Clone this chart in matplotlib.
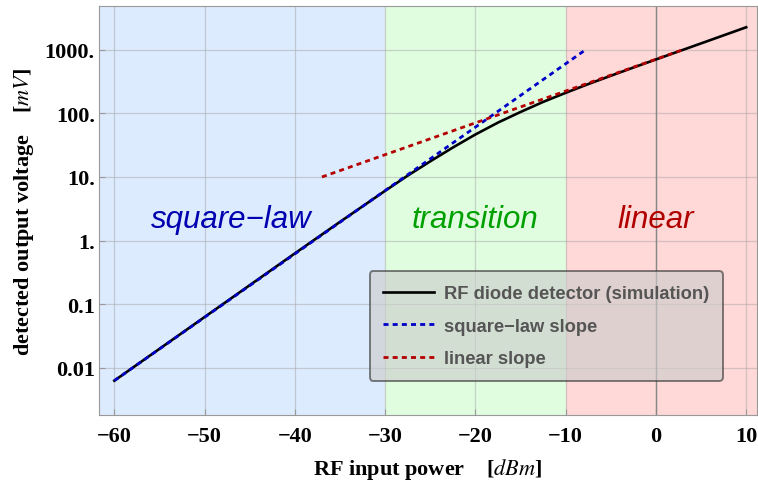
import numpy as np
import matplotlib.pyplot as plt
from matplotlib.ticker import FixedLocator, NullLocator

plt.rcParams['mathtext.fontset'] = 'stix'

# detector curve
p_dbm = [-60, -50, -40, -35, -30, -27.5, -25, -22.5, -20, -17.5, -15, -12.5,
         -10, -7.5, -5, -2.5, 0, 5, 10]
v_mv = [0.0063, 0.063, 0.63, 1.97, 6.06, 10.5, 17.6, 29.0, 46.5, 71.5, 105, 151,
        210, 288, 389, 524, 702, 1255, 2250]

# slope lines (end points)
sq_p = [-60, -8]
sq_v = [0.0063, 950]
lin_p = [-37, 3]
lin_v = [10, 1000]

# regions
region_edges = [-61.7, -30, -10, 11.2]
region_names = ['square\u2212law', 'transition', 'linear']
region_text_x = [-47, -20, 0]
region_fill = ['#dcebfd', '#e0fde0', '#ffd8d8']
region_text_col = ['#0000b0', '#00a000', '#b00000']

xticks = [-60, -50, -40, -30, -20, -10, 0, 10]
xtick_labels = ['\u221260', '\u221250', '\u221240', '\u221230', '\u221220', '\u221210', '0', '10']
yticks = [0.01, 0.1, 1, 10, 100, 1000]
ytick_labels = ['0.01', '0.1', '1.', '10.', '100.', '1000.']

fig = plt.figure(figsize=(7.58, 4.85), dpi=100)
ax = fig.add_axes([0.1306, 0.1423, 0.8681, 0.8433])

for i in range(3):
    ax.axvspan(region_edges[i], region_edges[i + 1], color=region_fill[i], lw=0, zorder=0)
    ax.text(region_text_x[i], 1.62, region_names[i], color=region_text_col[i],
            fontsize=22.5, style='italic', family='Liberation Sans',
            ha='center', va='baseline', zorder=3)

ax.set_yscale('log')
ax.set_xlim(region_edges[0], region_edges[-1])
ax.set_ylim(0.00182, 4860)

ax.grid(True, color='#a0a0a0', alpha=0.45, lw=0.9, zorder=1)
ax.axvline(0, color='#888888', lw=1.0, zorder=1)
ax.set_axisbelow(True)

ax.plot(p_dbm, v_mv, color='black', lw=1.9, label='RF diode detector (simulation)', zorder=4)
ax.plot(sq_p, sq_v, color='#0000c8', lw=2.0, ls=(0, (1.8, 1.5)), label='square\u2212law slope', zorder=5)
ax.plot(lin_p, lin_v, color='#b40000', lw=2.0, ls=(0, (1.8, 1.5)), label='linear slope', zorder=5)

ax.xaxis.set_major_locator(FixedLocator(xticks))
ax.set_xticklabels(xtick_labels)
ax.yaxis.set_major_locator(FixedLocator(yticks))
ax.yaxis.set_minor_locator(NullLocator())
ax.set_yticklabels(ytick_labels)
ax.tick_params(direction='in', length=4, color='#999999', labelsize=16)
ax.tick_params(axis='x', pad=8)
ax.tick_params(axis='y', pad=3)
for lab in ax.get_xticklabels() + ax.get_yticklabels():
    lab.set_family('Liberation Serif')
    lab.set_fontweight('bold')
for s in ax.spines.values():
    s.set_color('#999999')

ax.set_xlabel('RF input power    [$dBm$]', fontsize=16, family='Liberation Serif',
              fontweight='bold', labelpad=7)
ax.set_ylabel('detected output voltage    [$mV$]', fontsize=16, family='Liberation Serif',
              fontweight='bold', labelpad=6)

leg = ax.legend(loc='lower right', bbox_to_anchor=(0.948, 0.083), borderaxespad=0,
                fancybox=True, framealpha=0.62, facecolor='#cccccc', edgecolor='#333333',
                handlelength=2.75, handletextpad=0.55, labelspacing=0.85, borderpad=0.75,
                prop={'family': 'Liberation Sans', 'weight': 'bold', 'size': 13.2})
leg.get_frame().set_linewidth(1.4)
for t in leg.get_texts():
    t.set_color('#555555')
leg.set_zorder(6)

fig.savefig('out.png', dpi=100)
